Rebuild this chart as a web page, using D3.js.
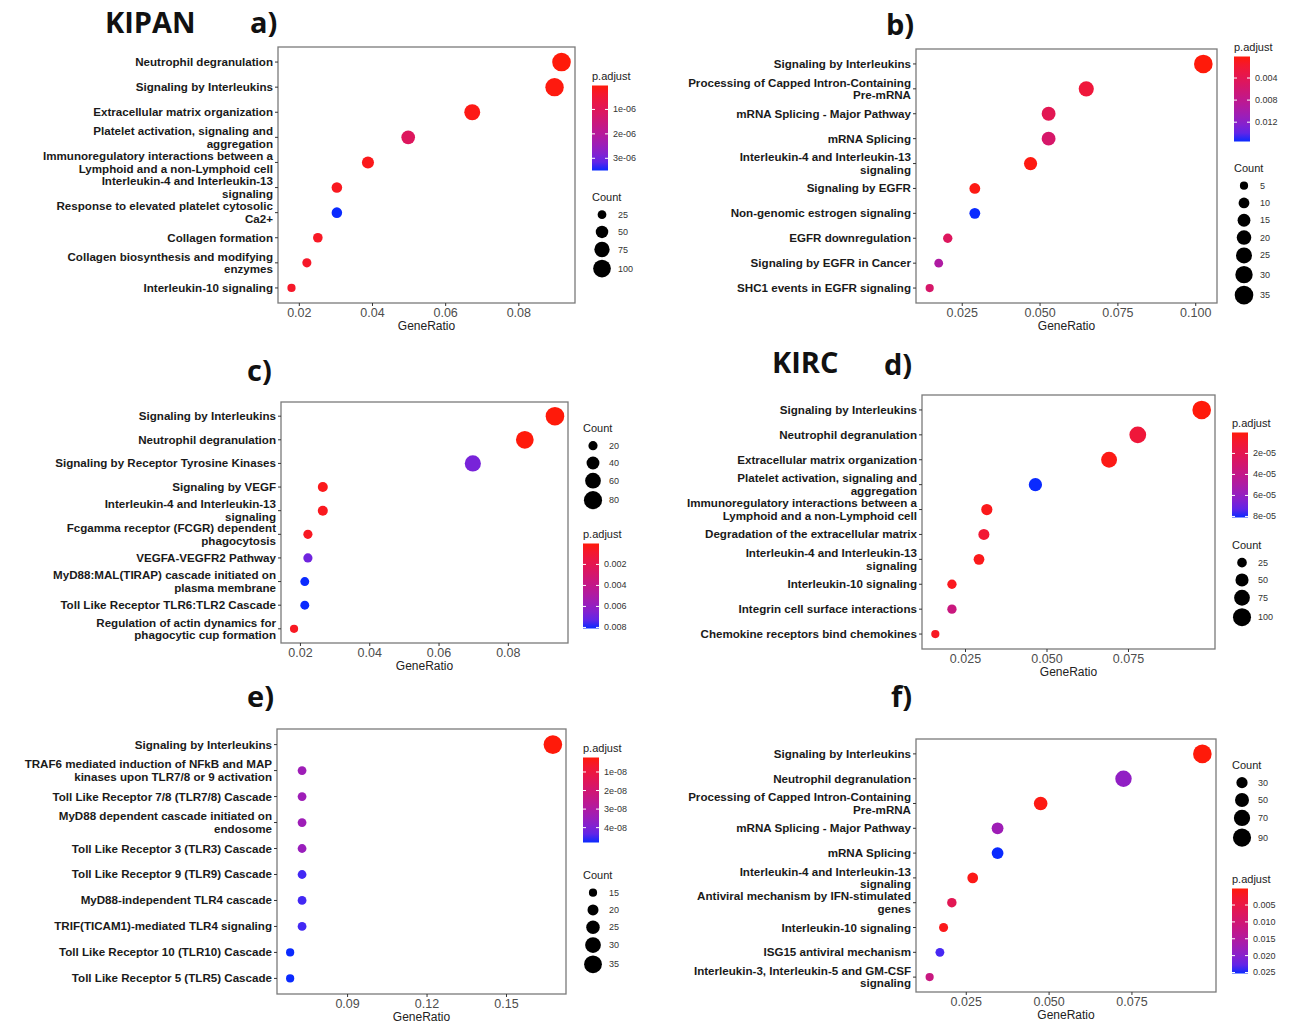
<!DOCTYPE html>
<html>
<head>
<meta charset="utf-8">
<script src="https://cdn.jsdelivr.net/npm/d3@7"></script>
<style>
  body { margin: 0; background: #fff; }
  svg text { font-family: "Liberation Sans", Arial, sans-serif; }
  .plabel { font-family: "Open Sans", "Noto Sans", sans-serif !important; font-weight: 700; }
</style>
</head>
<body>
<div id="chart"></div>
<script>
// ---- panel a (KIPAN) ----
const aTerms = ["Neutrophil degranulation", "Signaling by Interleukins", "Extracellular matrix organization",
  "Platelet activation, signaling and\naggregation", "Immunoregulatory interactions between a\nLymphoid and a non-Lymphoid cell",
  "Interleukin-4 and Interleukin-13\nsignaling", "Response to elevated platelet cytosolic\nCa2+",
  "Collagen formation", "Collagen biosynthesis and modifying\nenzymes", "Interleukin-10 signaling"];
const aRatio = [0.0918, 0.0899, 0.0674, 0.0499, 0.0389, 0.0304, 0.0304, 0.0252, 0.0222, 0.0180];
const aCount = [110, 108, 81, 60, 47, 36, 36, 30, 27, 22];
const aPadj = [2e-8, 5e-8, 1e-7, 1.05e-6, 1.5e-7, 2e-7, 3.5e-6, 2.5e-7, 3e-7, 3e-7];
const aXTicks = [0.02, 0.04, 0.06, 0.08];
const aPTicks = [1e-6, 2e-6, 3e-6];
const aPLabels = ["1e-06", "2e-06", "3e-06"];
const aCountBreaks = [25, 50, 75, 100];

// ---- panel b ----
const bTerms = ["Signaling by Interleukins", "Processing of Capped Intron-Containing\nPre-mRNA",
  "mRNA Splicing - Major Pathway", "mRNA Splicing", "Interleukin-4 and Interleukin-13\nsignaling",
  "Signaling by EGFR", "Non-genomic estrogen signaling", "EGFR downregulation",
  "Signaling by EGFR in Cancer", "SHC1 events in EGFR signaling"];
const bRatio = [0.1026, 0.0650, 0.0529, 0.0529, 0.0471, 0.0292, 0.0292, 0.0205, 0.0176, 0.0147];
const bCount = [35, 22, 18, 18, 16, 10, 10, 7, 6, 5];
const bPadj = [0.0001, 0.0024, 0.0040, 0.0055, 0.0003, 0.0004, 0.0155, 0.0047, 0.0094, 0.0055];
const bXTicks = [0.025, 0.05, 0.075, 0.1];
const bPTicks = [0.004, 0.008, 0.012];
const bPLabels = ["0.004", "0.008", "0.012"];
const bCountBreaks = [5, 10, 15, 20, 25, 30, 35];

// ---- panel c ----
const cTerms = ["Signaling by Interleukins", "Neutrophil degranulation", "Signaling by Receptor Tyrosine Kinases",
  "Signaling by VEGF", "Interleukin-4 and Interleukin-13\nsignaling", "Fcgamma receptor (FCGR) dependent\nphagocytosis",
  "VEGFA-VEGFR2 Pathway", "MyD88:MAL(TIRAP) cascade initiated on\nplasma membrane",
  "Toll Like Receptor TLR6:TLR2 Cascade", "Regulation of actin dynamics for\nphagocytic cup formation"];
const cRatio = [0.0936, 0.0849, 0.0699, 0.0266, 0.0266, 0.0223, 0.0223, 0.0214, 0.0214, 0.0183];
const cCount = [84, 76, 63, 24, 24, 20, 20, 19, 19, 16];
const cPadj = [0.00001, 0.00002, 0.0068, 0.0003, 0.0004, 0.0005, 0.0070, 0.0081, 0.0081, 0.0005];
const cXTicks = [0.02, 0.04, 0.06, 0.08];
const cPTicks = [0.002, 0.004, 0.006, 0.008];
const cPLabels = ["0.002", "0.004", "0.006", "0.008"];
const cCountBreaks = [20, 40, 60, 80];

// ---- panel d (KIRC) ----
const dTerms = ["Signaling by Interleukins", "Neutrophil degranulation", "Extracellular matrix organization",
  "Platelet activation, signaling and\naggregation", "Immunoregulatory interactions between a\nLymphoid and a non-Lymphoid cell",
  "Degradation of the extracellular matrix", "Interleukin-4 and Interleukin-13\nsignaling",
  "Interleukin-10 signaling", "Integrin cell surface interactions", "Chemokine receptors bind chemokines"];
const dRatio = [0.0976, 0.0780, 0.0692, 0.0466, 0.0317, 0.0308, 0.0293, 0.0210, 0.0210, 0.0159];
const dCount = [107, 86, 76, 51, 35, 34, 32, 23, 23, 17];
const dPadj = [1e-7, 1.2e-5, 2e-6, 8.1e-5, 3e-6, 1e-5, 3e-6, 4e-6, 3.6e-5, 5e-6];
const dXTicks = [0.025, 0.05, 0.075];
const dPTicks = [2e-5, 4e-5, 6e-5, 8e-5];
const dPLabels = ["2e-05", "4e-05", "6e-05", "8e-05"];
const dCountBreaks = [25, 50, 75, 100];

// ---- panel e ----
const eTerms = ["Signaling by Interleukins", "TRAF6 mediated induction of NFkB and MAP\nkinases upon TLR7/8 or 9 activation",
  "Toll Like Receptor 7/8 (TLR7/8) Cascade", "MyD88 dependent cascade initiated on\nendosome",
  "Toll Like Receptor 3 (TLR3) Cascade", "Toll Like Receptor 9 (TLR9) Cascade", "MyD88-independent TLR4 cascade",
  "TRIF(TICAM1)-mediated TLR4 signaling", "Toll Like Receptor 10 (TLR10) Cascade", "Toll Like Receptor 5 (TLR5) Cascade"];
const eRatio = [0.1677, 0.0730, 0.0730, 0.0730, 0.0730, 0.0730, 0.0730, 0.0730, 0.0685, 0.0685];
const eCount = [37, 16, 16, 16, 16, 16, 16, 16, 15, 15];
const ePadj = [2.2e-9, 3.4e-8, 3.4e-8, 3.4e-8, 3.5e-8, 4.6e-8, 4.6e-8, 4.6e-8, 4.8e-8, 4.8e-8];
const eXTicks = [0.09, 0.12, 0.15];
const ePTicks = [1e-8, 2e-8, 3e-8, 4e-8];
const ePLabels = ["1e-08", "2e-08", "3e-08", "4e-08"];
const eCountBreaks = [15, 20, 25, 30, 35];

// ---- panel f ----
const fTerms = ["Signaling by Interleukins", "Neutrophil degranulation", "Processing of Capped Intron-Containing\nPre-mRNA",
  "mRNA Splicing - Major Pathway", "mRNA Splicing", "Interleukin-4 and Interleukin-13\nsignaling",
  "Antiviral mechanism by IFN-stimulated\ngenes", "Interleukin-10 signaling", "ISG15 antiviral mechanism",
  "Interleukin-3, Interleukin-5 and GM-CSF\nsignaling"];
const fRatio = [0.0964, 0.0726, 0.0476, 0.0346, 0.0346, 0.0271, 0.0208, 0.0183, 0.0172, 0.0141];
const fCount = [95, 72, 47, 34, 34, 27, 20, 18, 17, 14];
const fPadj = [0.0001, 0.019, 0.0005, 0.0175, 0.0253, 0.0008, 0.0065, 0.001, 0.024, 0.0115];
const fXTicks = [0.025, 0.05, 0.075];
const fPTicks = [0.005, 0.01, 0.015, 0.02, 0.025];
const fPLabels = ["0.005", "0.010", "0.015", "0.020", "0.025"];
const fCountBreaks = [30, 50, 70, 90];

const width = 1292, height = 1027;

const svg = d3.select("#chart").append("svg")
    .attr("width", width)
    .attr("height", height);

// layout of each panel (box = plot frame x0,y0,x1,y1)
const panels = [
  { id: "a", terms: aTerms, ratio: aRatio, count: aCount, padj: aPadj, xTicks: aXTicks, xFmt: ".2f",
    pTicks: aPTicks, pLabels: aPLabels, countBreaks: aCountBreaks,
    box: [278, 47, 575, 303], lx: 592, colorY: 80, sizeY: 201 },
  { id: "b", terms: bTerms, ratio: bRatio, count: bCount, padj: bPadj, xTicks: bXTicks, xFmt: ".3f",
    pTicks: bPTicks, pLabels: bPLabels, countBreaks: bCountBreaks,
    box: [916, 49, 1217, 303], lx: 1234, colorY: 51, sizeY: 172 },
  { id: "c", terms: cTerms, ratio: cRatio, count: cCount, padj: cPadj, xTicks: cXTicks, xFmt: ".2f",
    pTicks: cPTicks, pLabels: cPLabels, countBreaks: cCountBreaks,
    box: [281, 402, 568, 643], lx: 583, colorY: 538, sizeY: 432 },
  { id: "d", terms: dTerms, ratio: dRatio, count: dCount, padj: dPadj, xTicks: dXTicks, xFmt: ".3f",
    pTicks: dPTicks, pLabels: dPLabels, countBreaks: dCountBreaks,
    box: [922, 395, 1215, 649], lx: 1232, colorY: 427, sizeY: 549 },
  { id: "e", terms: eTerms, ratio: eRatio, count: eCount, padj: ePadj, xTicks: eXTicks, xFmt: ".2f",
    pTicks: ePTicks, pLabels: ePLabels, countBreaks: eCountBreaks,
    box: [277, 729, 566, 994], lx: 583, colorY: 752, sizeY: 879 },
  { id: "f", terms: fTerms, ratio: fRatio, count: fCount, padj: fPadj, xTicks: fXTicks, xFmt: ".3f",
    pTicks: fPTicks, pLabels: fPLabels, countBreaks: fCountBreaks,
    box: [916, 739, 1216, 992], lx: 1232, colorY: 883, sizeY: 769 }
];

// big panel letters and cohort titles
const panelLabels = [
  { t: "KIPAN", x: 105, y: 33 }, { t: "a)", x: 250, y: 33 }, { t: "b)", x: 886, y: 35 },
  { t: "c)", x: 247, y: 381 }, { t: "KIRC", x: 772, y: 373 }, { t: "d)", x: 884, y: 375 },
  { t: "e)", x: 247, y: 707 }, { t: "f)", x: 891, y: 707 }
];
svg.selectAll(".plabel")
    .data(panelLabels)
    .enter().append("text")
    .attr("class", "plabel")
    .attr("x", d => d.x)
    .attr("y", d => d.y)
    .style("font-size", "29px")
    .style("fill", "#111")
    .text(d => d.t);

const defs = svg.append("defs");

function drawPanel(p) {
    const [x0, y0, x1, y1] = p.box;
    const g = svg.append("g").attr("class", "panel-" + p.id);

    // x scale with ggplot's 5% expansion
    const ext = d3.extent(p.ratio);
    const pad = (ext[1] - ext[0]) * 0.05;
    const x = d3.scaleLinear().domain([ext[0] - pad, ext[1] + pad]).range([x0, x1]);

    const y = d3.scalePoint().domain(p.terms).range([y0, y1]).padding(0.6);

    const color = d3.scaleLinear()
        .domain(d3.extent(p.padj))
        .range(["#ff1a0a", "#0a2aff"])
        .interpolate(d3.interpolateLab);

    const size = d3.scaleSqrt()
        .domain(d3.extent(p.count))
        .range([4.1, 9.3]);

    // frame
    g.append("rect")
        .attr("x", x0).attr("y", y0)
        .attr("width", x1 - x0).attr("height", y1 - y0)
        .style("fill", "none")
        .style("stroke", "#7a7a7a")
        .style("stroke-width", 1.3);

    // x axis
    const xAxis = g.append("g")
        .attr("transform", `translate(0,${y1})`)
        .call(d3.axisBottom(x).tickValues(p.xTicks).tickFormat(d3.format(p.xFmt)).tickSize(3).tickPadding(2));
    xAxis.select(".domain").remove();
    xAxis.selectAll("line").style("stroke", "#333");
    xAxis.selectAll("text")
        .style("font-size", "12.5px")
        .style("fill", "#4d4d4d")
        .style("font-family", "Liberation Sans, Arial, sans-serif");

    g.append("text")
        .attr("x", (x0 + x1) / 2)
        .attr("y", y1 + 27)
        .attr("text-anchor", "middle")
        .style("font-size", "12px")
        .style("fill", "#222")
        .text("GeneRatio");

    // y axis ticks + wrapped labels
    const yAxis = g.append("g").attr("transform", `translate(${x0},0)`);
    p.terms.forEach(term => {
        const ty = y(term);
        yAxis.append("line")
            .attr("x1", -3).attr("x2", 0)
            .attr("y1", ty).attr("y2", ty)
            .style("stroke", "#333");
        const lines = term.split("\n");
        const lh = 12.6;
        const t = yAxis.append("text")
            .attr("text-anchor", "end")
            .style("font-size", "11.6px")
            .style("font-weight", "bold")
            .style("fill", "#1a1a1a");
        lines.forEach((ln, i) => {
            t.append("tspan")
                .attr("x", -5)
                .attr("y", ty + (i - (lines.length - 1) / 2) * lh + 4)
                .text(ln);
        });
    });

    // dots
    const rows = p.terms.map((t, i) => ({ term: t, ratio: p.ratio[i], count: p.count[i], padj: p.padj[i] }));
    g.selectAll("circle.dot")
        .data(rows)
        .enter().append("circle")
        .attr("class", "dot")
        .attr("cx", d => x(d.ratio))
        .attr("cy", d => y(d.term))
        .attr("r", d => size(d.count))
        .style("fill", d => color(d.padj));

    // colour legend
    const lx = p.lx;
    g.append("text")
        .attr("x", lx).attr("y", p.colorY)
        .style("font-size", "11px")
        .style("fill", "#222")
        .text("p.adjust");
    const barTop = p.colorY + 5.5, barH = 85, barW = 16;
    const grad = defs.append("linearGradient")
        .attr("id", "grad-" + p.id)
        .attr("x1", 0).attr("y1", 0).attr("x2", 0).attr("y2", 1);
    d3.range(0, 1.0001, 0.1).forEach(s => {
        grad.append("stop")
            .attr("offset", s)
            .attr("stop-color", color(color.domain()[0] + s * (color.domain()[1] - color.domain()[0])));
    });
    g.append("rect")
        .attr("x", lx).attr("y", barTop)
        .attr("width", barW).attr("height", barH)
        .style("fill", `url(#grad-${p.id})`);
    const barScale = d3.scaleLinear().domain(color.domain()).range([barTop, barTop + barH]);
    p.pTicks.forEach((v, i) => {
        const ty = barScale(v);
        g.append("line").attr("x1", lx).attr("x2", lx + 3).attr("y1", ty).attr("y2", ty)
            .style("stroke", "#fff").style("stroke-width", 1);
        g.append("line").attr("x1", lx + barW - 3).attr("x2", lx + barW).attr("y1", ty).attr("y2", ty)
            .style("stroke", "#fff").style("stroke-width", 1);
        g.append("text")
            .attr("x", lx + barW + 5).attr("y", ty + 3)
            .style("font-size", "9px")
            .style("fill", "#333")
            .text(p.pLabels[i]);
    });

    // size legend
    g.append("text")
        .attr("x", lx).attr("y", p.sizeY)
        .style("font-size", "11px")
        .style("fill", "#222")
        .text("Count");
    let ky = p.sizeY + 5;
    p.countBreaks.forEach(b => {
        const r = size(b);
        const kh = Math.max(17.3, 2 * r + 2.5);
        const cy = ky + kh / 2;
        g.append("circle")
            .attr("cx", lx + 10).attr("cy", cy).attr("r", r)
            .style("fill", "#000");
        g.append("text")
            .attr("x", lx + 26).attr("y", cy + 3)
            .style("font-size", "9px")
            .style("fill", "#333")
            .text(b);
        ky += kh;
    });
}

panels.forEach(drawPanel);
</script>
</body>
</html>
